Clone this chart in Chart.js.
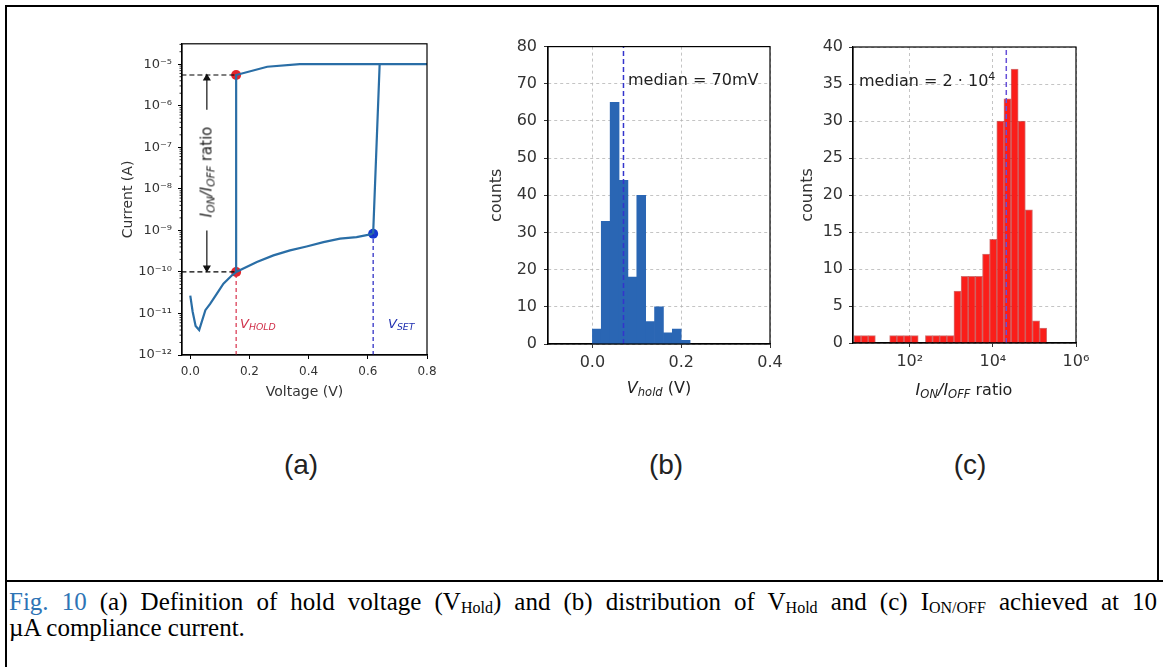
<!DOCTYPE html>
<html lang="en">
  <head>
    <meta charset="UTF-8" />
    <title>Fig. 10 - hold voltage and ON/OFF ratio</title>
    <script src="https://cdn.jsdelivr.net/npm/chart.js"></script>
    <style>
      body { margin: 0; background: #fff; }
      .page { position: relative; width: 1163px; height: 667px; overflow: hidden; font-family: "DejaVu Sans", sans-serif; color: #222; }
      .page canvas { position: absolute; }
      .line { position: absolute; background: #000; }
      .note { position: absolute; white-space: nowrap; line-height: 1; }
      .c { transform: translate(-50%, -50%); }
      .l { transform: translateY(-50%); }
      .panel { position: absolute; font-family: "Liberation Sans", Arial, sans-serif; font-size: 28px; transform: translate(-50%, -50%); }
      .caption { position: absolute; left: 9px; top: 589px; width: 1148px; font-family: "Liberation Serif", "Times New Roman", serif; font-size: 25px; line-height: 26px; color: #000; }
      .caption .first { text-align: justify; text-align-last: justify; }
      .caption sub { font-size: 16px; vertical-align: -3px; line-height: 0; }
      .fig { color: #2e74b5; }
      .note sub { font-size: 0.72em; vertical-align: -0.25em; line-height: 0; }
    </style>
  </head>
  <body>
    <div class="page">
      <!-- frame of the figure box and caption box -->
      <div class="line" style="left:5px;top:5px;width:1154px;height:2px"></div>
      <div class="line" style="left:5px;top:5px;width:2px;height:662px"></div>
      <div class="line" style="left:1157px;top:5px;width:2px;height:577px"></div>
      <div class="line" style="left:5px;top:580px;width:1158px;height:2px"></div>

      <canvas id="ivChart" width="342" height="390" style="left:110px;top:30px;width:342px;height:390px"></canvas>
      <canvas id="holdChart" width="310" height="390" style="left:480px;top:30px;width:310px;height:390px"></canvas>
      <canvas id="ratioChart" width="306" height="390" style="left:790px;top:30px;width:306px;height:390px"></canvas>

      <!-- annotations (a) -->
      <div class="note c" style="left:207px;top:172px;font-size:15px;transform:translate(-50%,-50%) rotate(-90deg)"><i>I<sub>ON</sub>/I<sub>OFF</sub></i> ratio</div>
      <div class="note l" style="left:240px;top:323px;font-size:13px;color:#d0304a"><i>V<sub>HOLD</sub></i></div>
      <div class="note l" style="left:388px;top:323px;font-size:13px;color:#2030b0"><i>V<sub>SET</sub></i></div>

      <!-- annotations (b), (c) -->
      <div class="note l" style="left:628px;top:80px;font-size:16px">median = 70mV</div>
      <div class="note c" style="left:659px;top:388px;font-size:16px"><i>V<sub>hold</sub></i> (V)</div>
      <div class="note l" style="left:859px;top:80px;font-size:16px">median = 2 · 10<sup style="font-size:11px">4</sup></div>
      <div class="note c" style="left:964px;top:390px;font-size:16px"><i>I<sub>ON</sub>/I<sub>OFF</sub></i> ratio</div>

      <div class="panel" style="left:301px;top:465px">(a)</div>
      <div class="panel" style="left:666px;top:465px">(b)</div>
      <div class="panel" style="left:970px;top:465px">(c)</div>

      <div class="caption">
        <div class="first"><span class="fig">Fig. 10</span> (a) Definition of hold voltage (V<sub>Hold</sub>) and (b) distribution of V<sub>Hold</sub> and (c) I<sub>ON/OFF</sub> achieved at 10</div>
        <div>µA compliance current.</div>
      </div>
    </div>

    <script>
      // (a) I-V sweep: up along the OFF branch, jump at V_SET, back down to V_HOLD
      var sweepV = [0.000, 0.008, 0.018, 0.030, 0.051, 0.067, 0.090, 0.112, 0.141, 0.155, 0.225, 0.281, 0.337, 0.393, 0.450, 0.506, 0.562, 0.618, 0.640, 0.800, 0.370, 0.260, 0.155, 0.155];
      var sweepI = [2.7e-11, 1.1e-11, 5.0e-12, 4.0e-12, 1.2e-11, 1.7e-11, 3.0e-11, 5.2e-11, 8.3e-11, 1.0e-10, 1.74e-10, 2.5e-10, 3.3e-10, 4.1e-10, 5.2e-10, 6.3e-10, 6.9e-10, 8.3e-10, 1.0e-5, 1.0e-5, 1.0e-5, 8.7e-6, 5.5e-6, 1.0e-10];
      var vHold = 0.155;
      var vSet = 0.618;
      var iOn = 5.5e-6;
      var iOff = 1.0e-10;
      var iSet = 8.3e-10;
      var arrowV = 0.056;
      var arrowUp = [8.0e-7, 4.6e-6];
      var arrowDown = [1.0e-9, 1.25e-10];
      var ivTicksX = [0, 0.2, 0.4, 0.6, 0.8];
      var ivTickLabelsX = ["0.0", "0.2", "0.4", "0.6", "0.8"];
      var ivTicksY = [1e-12, 1e-11, 1e-10, 1e-9, 1e-8, 1e-7, 1e-6, 1e-5];
      var ivTickLabelsY = ["10⁻¹²", "10⁻¹¹", "10⁻¹⁰", "10⁻⁹", "10⁻⁸", "10⁻⁷", "10⁻⁶", "10⁻⁵"];

      // (b) V_hold histogram, bin centres (V) and counts
      var holdBins = [0.01, 0.03, 0.05, 0.07, 0.09, 0.11, 0.13, 0.15, 0.17, 0.19, 0.21];
      var holdCounts = [4, 33, 65, 44, 18, 40, 6, 10, 3, 4, 1];
      var holdMedian = 0.07;
      var holdTicksX = [0, 0.2, 0.4];
      var holdTickLabelsX = ["0.0", "0.2", "0.4"];
      var holdTicksY = [0, 10, 20, 30, 40, 50, 60, 70, 80];

      // (c) ON/OFF ratio histogram, log10 bin centres and counts
      var ratioBinsLog = [0.742, 0.914, 1.086, 1.258, 1.429, 1.601, 1.773, 1.945, 2.117, 2.289, 2.461, 2.633, 2.804, 2.976,
                          3.148, 3.320, 3.492, 3.664, 3.836, 4.008, 4.179, 4.351, 4.523, 4.695, 4.867, 5.039, 5.211];
      var ratioCounts = [1, 1, 1, 0, 0, 1, 1, 1, 1, 0, 1, 1, 1, 1,
                         7, 9, 9, 9, 12, 14, 30, 33, 37, 30, 18, 3, 2];
      var ratioMedian = 2.1e4;
      var ratioTicksX = [1e2, 1e4, 1e6];
      var ratioTickLabelsX = ["10²", "10⁴", "10⁶"];
      var ratioTicksY = [0, 5, 10, 15, 20, 25, 30, 35, 40];

      Chart.defaults.font.family = "'DejaVu Sans', sans-serif";
      Chart.defaults.color = "#333";
      Chart.defaults.animation = false;

      // full box around the plot area, like matplotlib
      var framePlugin = {
        id: "frame",
        afterDatasetsDraw: function (chart) {
          var a = chart.chartArea, ctx = chart.ctx;
          ctx.save();
          ctx.strokeStyle = "#000";
          ctx.lineWidth = 1.2;
          ctx.strokeRect(a.left, a.top, a.right - a.left, a.bottom - a.top);
          ctx.restore();
        },
      };

      // minor ticks on the log current axis
      var minorTicks = {
        id: "minorTicks",
        afterDraw: function (chart) {
          var y = chart.scales.y, left = chart.chartArea.left, ctx = chart.ctx;
          ctx.save();
          ctx.strokeStyle = "#000";
          ctx.lineWidth = 0.8;
          for (var e = -12; e < -4; e++) {
            for (var k = 2; k < 10; k++) {
              var v = k * Math.pow(10, e);
              if (v > y.max) continue;
              var p = y.getPixelForValue(v);
              ctx.beginPath();
              ctx.moveTo(left - 2.5, p);
              ctx.lineTo(left, p);
              ctx.stroke();
            }
          }
          ctx.restore();
        },
      };

      function fixedTicks(values) {
        return function (scale) {
          scale.ticks = values.map(function (v) { return { value: v }; });
        };
      }

      function pts(xs, ys) {
        return xs.map(function (x, i) { return { x: x, y: ys[i] }; });
      }

      // (a) I-V curve
      new Chart(document.getElementById("ivChart"), {
        type: "scatter",
        data: {
          datasets: [
            {
              data: [{ x: -0.03, y: iOn }, { x: vHold, y: iOn }],
              showLine: true, borderColor: "#000", borderWidth: 1.2, borderDash: [5, 3], pointRadius: 0,
            },
            {
              data: [{ x: -0.03, y: iOff }, { x: vHold, y: iOff }],
              showLine: true, borderColor: "#000", borderWidth: 1.2, borderDash: [5, 3], pointRadius: 0,
            },
            {
              data: [{ x: vHold, y: 1e-12 }, { x: vHold, y: iOff }],
              showLine: true, borderColor: "#d8304a", borderWidth: 1.2, borderDash: [4, 3], pointRadius: 0,
            },
            {
              data: [{ x: vSet, y: 1e-12 }, { x: vSet, y: iSet }],
              showLine: true, borderColor: "#2020c0", borderWidth: 1.2, borderDash: [4, 3], pointRadius: 0,
            },
            {
              data: pts([arrowV, arrowV], arrowUp),
              showLine: true, borderColor: "#111", backgroundColor: "#111", borderWidth: 1.2,
              pointStyle: "triangle", pointRadius: [0, 3.5], rotation: 0,
            },
            {
              data: pts([arrowV, arrowV], arrowDown),
              showLine: true, borderColor: "#111", backgroundColor: "#111", borderWidth: 1.2,
              pointStyle: "triangle", pointRadius: [0, 3.5], rotation: 180,
            },
            {
              data: pts(sweepV, sweepI),
              showLine: true, borderColor: "#2a6ea6", borderWidth: 2.2, pointRadius: 0, tension: 0,
            },
            {
              data: [{ x: vHold, y: iOn }, { x: vHold, y: iOff }],
              pointRadius: 5, backgroundColor: "#e3262b", borderWidth: 0,
            },
            {
              data: [{ x: vSet, y: iSet }],
              pointRadius: 5, backgroundColor: "#1538d0", borderWidth: 0,
            },
          ],
        },
        options: {
          responsive: false,
          layout: { autoPadding: false, padding: { top: 13, right: 25, bottom: 0, left: 0 } },
          plugins: { legend: { display: false }, tooltip: { enabled: false } },
          scales: {
            x: {
              type: "linear", min: -0.028, max: 0.8,
              afterBuildTicks: fixedTicks(ivTicksX),
              afterFit: function (s) { s.height = 65; },
              ticks: {
                autoSkip: false, maxRotation: 0, padding: 6, font: { size: 12 },
                callback: function (v, i) { return ivTickLabelsX[i]; },
              },
              grid: { drawOnChartArea: false, tickLength: 4, tickColor: "#000" },
              border: { color: "#000", width: 1.2 },
              title: { display: true, text: "Voltage (V)", font: { size: 14 }, padding: { top: 0, bottom: 19.6 } },
            },
            y: {
              type: "logarithmic", min: 1e-12, max: 3.1e-5,
              afterBuildTicks: fixedTicks(ivTicksY),
              afterFit: function (s) { s.width = 72; },
              ticks: {
                autoSkip: false, padding: 6, font: { size: 13 },
                callback: function (v, i) { return ivTickLabelsY[i]; },
              },
              grid: { drawOnChartArea: false, tickLength: 4, tickColor: "#000" },
              border: { color: "#000", width: 1.2 },
              title: { display: true, text: "Current (A)", font: { size: 14 }, padding: { top: 9.6, bottom: 0 } },
            },
          },
        },
        plugins: [framePlugin, minorTicks],
      });

      // (b) V_hold histogram
      new Chart(document.getElementById("holdChart"), {
        type: "bar",
        data: {
          datasets: [
            {
              type: "line", order: 0,
              data: [{ x: holdMedian, y: 0 }, { x: holdMedian, y: 80 }],
              borderColor: "#3434cc", borderWidth: 1.5, borderDash: [5, 3], pointRadius: 0,
            },
            {
              type: "bar", order: 1,
              data: pts(holdBins, holdCounts),
              backgroundColor: "#2a66b4", borderWidth: 0,
              barPercentage: 1, categoryPercentage: 1, grouped: false,
            },
          ],
        },
        options: {
          responsive: false,
          layout: { autoPadding: false, padding: { top: 16, right: 20, bottom: 0, left: 0 } },
          plugins: { legend: { display: false }, tooltip: { enabled: false } },
          scales: {
            x: {
              type: "linear", min: -0.1, max: 0.4, offset: false,
              afterBuildTicks: fixedTicks(holdTicksX),
              afterFit: function (s) { s.height = 76; },
              ticks: {
                autoSkip: false, maxRotation: 0, padding: 5, font: { size: 16 },
                callback: function (v, i) { return holdTickLabelsX[i]; },
              },
              grid: { offset: false, color: "#b5b5b5", lineWidth: 0.8, tickLength: 4, tickColor: "#000", tickBorderDash: [] },
              border: { color: "#000", width: 1.2, dash: [3, 3] },
            },
            y: {
              type: "linear", min: 0, max: 80,
              afterBuildTicks: fixedTicks(holdTicksY),
              afterFit: function (s) { s.width = 68; },
              ticks: { autoSkip: false, padding: 7, font: { size: 16 } },
              grid: { color: "#b5b5b5", lineWidth: 0.8, tickLength: 4, tickColor: "#000", tickBorderDash: [] },
              border: { color: "#000", width: 1.2, dash: [3, 3] },
              title: { display: true, text: "counts", font: { size: 16 }, padding: { top: 7.4, bottom: 0 } },
            },
          },
        },
        plugins: [framePlugin],
      });

      // (c) ON/OFF ratio histogram
      new Chart(document.getElementById("ratioChart"), {
        type: "bar",
        data: {
          datasets: [
            {
              type: "line", order: 0,
              data: [{ x: ratioMedian, y: 0 }, { x: ratioMedian, y: 40 }],
              borderColor: "#6650d8", borderWidth: 1.5, borderDash: [5, 3], pointRadius: 0,
            },
            {
              type: "bar", order: 1,
              data: ratioBinsLog.map(function (e, i) { return { x: Math.pow(10, e), y: ratioCounts[i] }; }),
              backgroundColor: "#fa1e1a", borderColor: "rgba(175,0,0,0.55)", borderWidth: 1,
              barPercentage: 1, categoryPercentage: 1, grouped: false,
            },
          ],
        },
        options: {
          responsive: false,
          layout: { autoPadding: false, padding: { top: 17, right: 20, bottom: 0, left: 0 } },
          plugins: { legend: { display: false }, tooltip: { enabled: false } },
          scales: {
            x: {
              type: "logarithmic", min: 4.3, max: 1e6, offset: false,
              afterBuildTicks: fixedTicks(ratioTicksX),
              afterFit: function (s) { s.height = 77; },
              ticks: {
                autoSkip: false, maxRotation: 0, padding: 5, font: { size: 16 },
                callback: function (v, i) { return ratioTickLabelsX[i]; },
              },
              grid: { offset: false, color: "#b5b5b5", lineWidth: 0.8, tickLength: 4, tickColor: "#000", tickBorderDash: [] },
              border: { color: "#000", width: 1.2, dash: [3, 3] },
            },
            y: {
              type: "linear", min: 0, max: 40,
              afterBuildTicks: fixedTicks(ratioTicksY),
              afterFit: function (s) { s.width = 63; },
              ticks: { autoSkip: false, padding: 6, font: { size: 16 } },
              grid: { color: "#b5b5b5", lineWidth: 0.8, tickLength: 4, tickColor: "#000", tickBorderDash: [] },
              border: { color: "#000", width: 1.2, dash: [3, 3] },
              title: { display: true, text: "counts", font: { size: 16 }, padding: { top: 8.4, bottom: 0 } },
            },
          },
        },
        plugins: [framePlugin],
      });
    </script>
  </body>
</html>
